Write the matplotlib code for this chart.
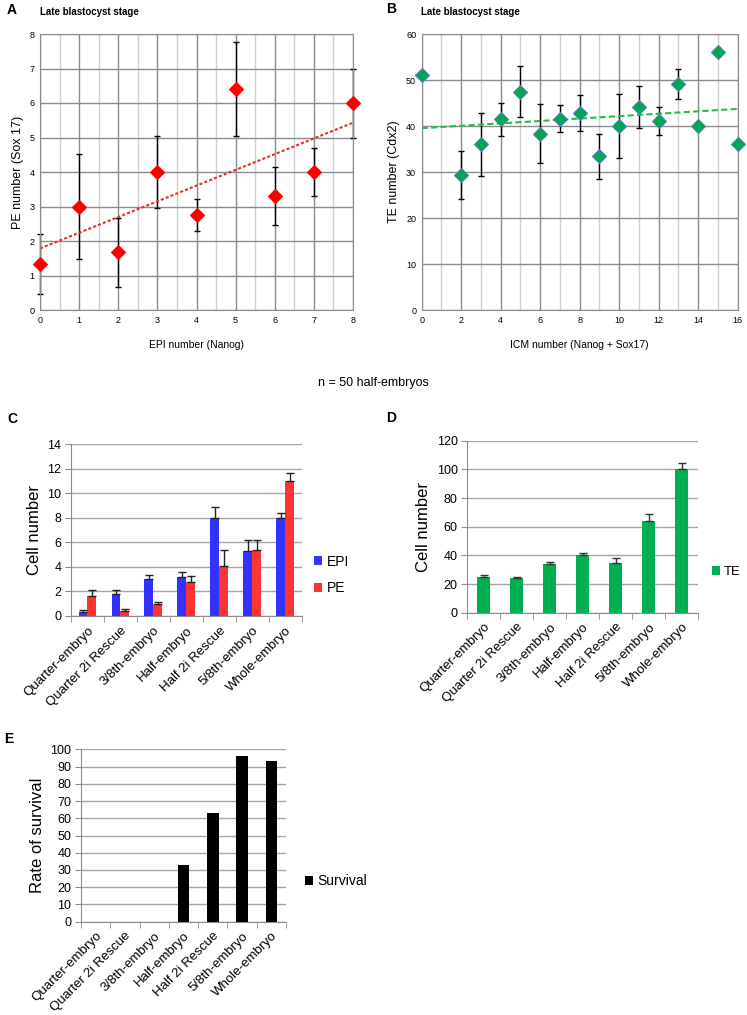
import matplotlib
matplotlib.use("Agg")
import matplotlib.pyplot as plt
import numpy as np

plt.rcParams['font.family'] = ['Liberation Sans', 'DejaVu Sans']

# panel A: PE vs EPI
epi_x = [0, 1, 2, 3, 4, 5, 6, 7, 8]
pe_y = [1.33, 3.0, 1.67, 4.0, 2.75, 6.4, 3.3, 4.0, 6.0]
pe_err = [0.88, 1.52, 1.0, 1.05, 0.47, 1.37, 0.84, 0.69, 1.0]

# panel B: TE vs ICM
icm_x = [0, 2, 3, 4, 5, 6, 7, 8, 9, 10, 11, 12, 13, 14, 15, 16]
te_y = [51, 29.3, 36, 41.5, 47.5, 38.3, 41.6, 42.8, 33.4, 40, 44.2, 41, 49.2, 40, 56, 36]
te_err = [0, 5.2, 6.9, 3.6, 5.6, 6.4, 2.9, 3.9, 4.9, 6.9, 4.6, 3.05, 3.3, 0, 0, 0]

# panels C-E
groups = ["Quarter-embryo", "Quarter 2i Rescue", "3/8th-embryo", "Half-embryo",
          "Half 2i Rescue", "5/8th-embryo", "Whole-embryo"]
epi = [0.3, 1.8, 3.0, 3.2, 8.0, 5.3, 8.0]
epi_e = [0.2, 0.3, 0.32, 0.35, 0.9, 0.92, 0.4]
pe = [1.6, 0.4, 1.0, 2.8, 4.1, 5.4, 11.0]
pe_e = [0.5, 0.2, 0.14, 0.43, 1.27, 0.8, 0.68]
te = [25, 24, 34, 40, 35, 64, 100]
te_e = [1.2, 1.2, 1.4, 1.9, 3.5, 4.9, 4.2]
survival = [0, 0, 0, 33, 63, 96, 93]

W, H = 747, 1015
fig = plt.figure(figsize=(W / 100, H / 100), dpi=100)


def box(l, t, r, b):
    return [l / W, 1 - b / H, (r - l) / W, (b - t) / H]


def scatter_panel(rect, x, y, err, xmax, xstep, ymax, ystep, col, edge, trendcol, trendls, xlab, ylab):
    ax = fig.add_axes(rect)
    ax.set_xlim(0, xmax)
    ax.set_ylim(0, ymax)
    minor = np.arange(0, xmax + 0.001, xstep / 2)
    for v in minor:
        isint = abs(v / xstep - round(v / xstep)) < 1e-6
        ax.axvline(v, color="#8c8c8c" if isint else "#cfcfcf", lw=1.0, zorder=0)
    for v in np.arange(0, ymax + 0.001, ystep):
        ax.axhline(v, color="#8c8c8c", lw=1.0, zorder=0)
    ax.set_xticks(np.arange(0, xmax + 0.001, xstep))
    ax.set_yticks(np.arange(0, ymax + 0.001, ystep))
    ax.tick_params(labelsize=6.5, length=0, pad=4)
    for s in ax.spines.values():
        s.set_color("#8c8c8c")
    x = np.array(x)
    y = np.array(y)
    err = np.array(err)
    m = err > 0
    eb = ax.errorbar(x[m], y[m], yerr=err[m], fmt="none", ecolor="black", elinewidth=1,
                     capsize=2.5, capthick=1, zorder=2)
    for art in eb.get_children():
        art.set_clip_on(False)
    ax.plot(x, y, "D", color=col, mec=edge, mew=0.8, ms=7, zorder=3, clip_on=False)
    k, b0 = np.polyfit(x, y, 1)
    xx = np.array([0, xmax])
    ax.plot(xx, k * xx + b0, color=trendcol, ls=trendls, lw=1.5, zorder=2)
    ax.set_xlabel(xlab, fontsize=7.5, labelpad=11)
    ax.set_ylabel(ylab, fontsize=9)
    return ax


scatter_panel(box(40, 34, 353, 310), epi_x, pe_y, pe_err, 8, 1, 8, 1, "#ff0000", "#ff0000",
              "#e8302a", (0, (1.5, 1)), "EPI number (Nanog)", "PE number (Sox 17)")
scatter_panel(box(421.7, 34, 737.7, 310), icm_x, te_y, te_err, 16, 2, 60, 10, "#00a651", "#4f81bd",
              "#22c04a", (0, (3, 1.5)), "ICM number (Nanog + Sox17)", "TE number (Cdx2)")

fig.text(7 / W, 1 - 10 / H, "A", fontsize=10, fontweight="bold", va="center")
fig.text(40 / W, 1 - 12 / H, "Late blastocyst stage", fontsize=7, fontweight="bold", va="center")
fig.text(386 / W, 1 - 9 / H, "B", fontsize=10, fontweight="bold", va="center")
fig.text(421 / W, 1 - 12 / H, "Late blastocyst stage", fontsize=7, fontweight="bold", va="center")
fig.text(373 / W, 1 - 383 / H, "n = 50 half-embryos", fontsize=9, ha="center", va="center")


def bar_panel(rect, ymax, ystep, ylab):
    ax = fig.add_axes(rect)
    ax.set_xlim(-0.5, 6.5)
    ax.set_ylim(0, ymax)
    ax.set_yticks(np.arange(0, ymax + 0.001, ystep))
    ax.yaxis.grid(True, color="#a6a6a6", lw=1)
    ax.set_axisbelow(True)
    for s in ["top", "right"]:
        ax.spines[s].set_visible(False)
    ax.spines["left"].set_color("#8c8c8c")
    ax.spines["bottom"].set_color("#8c8c8c")
    ax.set_xticks(range(7))
    ax.set_xticklabels(groups, rotation=45, ha="right", rotation_mode="anchor")
    ax.set_xticks(np.arange(-0.5, 7, 1), minor=True)
    ax.tick_params(axis="x", which="major", length=0, labelsize=9.5, pad=6)
    ax.tick_params(axis="x", which="minor", length=4, color="#8c8c8c", direction="out")
    ax.tick_params(axis="y", length=4, color="#8c8c8c", labelsize=9, pad=3)
    ax.set_ylabel(ylab, fontsize=12)
    return ax


def side_legend(ax, x, y, fs=10):
    ax.legend(loc="center left", bbox_to_anchor=(x / W, 1 - y / H), bbox_transform=fig.transFigure,
              frameon=False, fontsize=fs, handlelength=0.6, handleheight=0.6, handletextpad=0.3,
              labelspacing=0.9, borderpad=0, borderaxespad=0)


pos = np.arange(7)

axc = bar_panel(box(71, 444.3, 301.7, 616), 14, 2, "Cell number")
axc.bar(pos - 0.135, epi, width=0.27, color="#3333ff", label="EPI")
axc.bar(pos + 0.135, pe, width=0.27, color="#ff3333", label="PE")
axc.errorbar(pos - 0.135, epi, yerr=[np.zeros(7), epi_e], fmt="none", ecolor="#222222", elinewidth=1, capsize=3)
axc.errorbar(pos + 0.135, pe, yerr=[np.zeros(7), pe_e], fmt="none", ecolor="#222222", elinewidth=1, capsize=3)
side_legend(axc, 314, 575)
fig.text(7 / W, 1 - 419 / H, "C", fontsize=10, fontweight="bold", va="center")

axd = bar_panel(box(467.3, 440.7, 698.3, 612.7), 120, 20, "Cell number")
axd.bar(pos, te, width=0.4, color="#00b050", label="TE")
axd.errorbar(pos, te, yerr=[np.zeros(7), te_e], fmt="none", ecolor="#333333", elinewidth=1, capsize=3)
side_legend(axd, 712, 572, fs=9.5)
fig.text(386 / W, 1 - 418 / H, "D", fontsize=10, fontweight="bold", va="center")

axe = bar_panel(box(81, 749.3, 286, 921.7), 100, 10, "Rate of survival")
axe.bar(pos, survival, width=0.4, color="black", label="Survival")
side_legend(axe, 305, 881)
fig.text(4 / W, 1 - 739 / H, "E", fontsize=10, fontweight="bold", va="center")

fig.savefig("out.png", dpi=100)
